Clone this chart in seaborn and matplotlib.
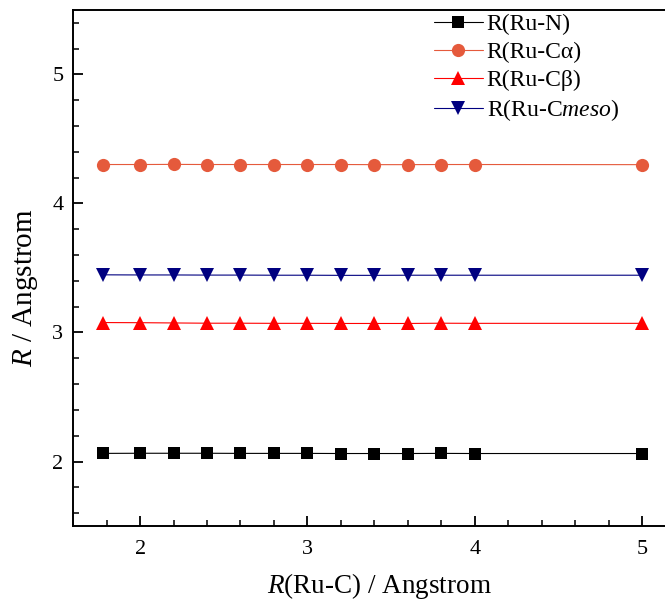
import matplotlib
matplotlib.use('Agg')
import matplotlib.pyplot as plt
from matplotlib.ticker import MultipleLocator
import pandas as pd
import seaborn as sns

sns.set_style('ticks')
plt.rcParams['font.family'] = ['Liberation Serif', 'DejaVu Serif']
plt.rcParams['mathtext.fontset'] = 'custom'
plt.rcParams['mathtext.rm'] = 'Liberation Serif'
plt.rcParams['mathtext.it'] = 'Liberation Serif:italic'
plt.rcParams['text.color'] = 'black'
plt.rcParams['axes.labelcolor'] = 'black'
plt.rcParams['xtick.color'] = 'black'
plt.rcParams['ytick.color'] = 'black'

# distances Ru-C scanned
r_ruc = [1.78, 2.0, 2.2, 2.4, 2.6, 2.8, 3.0, 3.2, 3.4, 3.6, 3.8, 4.0, 5.0]
r_n = [2.063, 2.064, 2.064, 2.064, 2.063, 2.063, 2.063, 2.062, 2.062, 2.062, 2.063, 2.062, 2.062]
r_ca = [4.302, 4.302, 4.303, 4.302, 4.302, 4.302, 4.302, 4.302, 4.301, 4.301, 4.302, 4.302, 4.301]
r_cb = [3.077, 3.076, 3.074, 3.072, 3.072, 3.071, 3.071, 3.070, 3.070, 3.070, 3.072, 3.071, 3.071]
r_cmeso = [3.447, 3.446, 3.446, 3.445, 3.445, 3.444, 3.444, 3.443, 3.443, 3.444, 3.444, 3.444, 3.444]

labels = ['R(Ru-N)', 'R(Ru-C\u03b1)', 'R(Ru-C\u03b2)', 'R(Ru-C$\\mathit{meso}$)']
series = [r_n, r_ca, r_cb, r_cmeso]
colors = ['#000000', '#E55A3C', '#FF0000', '#000080']
markers = ['s', 'o', '^', 'v']
msizes = [8.5, 9.5, 10.5, 10.5]

fig = plt.figure(figsize=(6.65, 6.07), dpi=100)
ax = fig.add_axes([0.11, 0.1334, 0.89, 0.8502])

for vals, lab, c, m, ms in zip(series, labels, colors, markers, msizes):
    df = pd.DataFrame({'x': r_ruc, 'y': vals})
    sns.lineplot(data=df, x='x', y='y', ax=ax, color=c, marker=m, markersize=ms,
                 markeredgewidth=0, linewidth=0.8, label=lab)

ax.set_xlim(1.6, 5.137)
ax.set_ylim(1.5, 5.5)
ax.xaxis.set_major_locator(MultipleLocator(1))
ax.xaxis.set_minor_locator(MultipleLocator(0.2))
ax.yaxis.set_major_locator(MultipleLocator(1))
ax.yaxis.set_minor_locator(MultipleLocator(0.2))
ax.tick_params(which='major', direction='in', length=7, width=1.3, labelsize=16,
               colors='black', left=True, bottom=True)
ax.tick_params(which='minor', direction='in', length=4, width=1.1, colors='black',
               left=True, bottom=True)
ax.tick_params(axis='x', which='major', pad=10)
ax.tick_params(axis='y', which='major', pad=7)
ax.spines['right'].set_visible(False)
for s in ['left', 'bottom', 'top']:
    ax.spines[s].set_linewidth(1.4)
    ax.spines[s].set_color('black')

ax.set_xlabel('$\\mathit{R}$(Ru-C) / Angstrom', fontsize=19.5)
ax.set_ylabel('$\\mathit{R}$ / Angstrom', fontsize=21)
ax.xaxis.set_label_coords(0.517, -0.088)
ax.yaxis.set_label_coords(-0.056, 0.462)

ax.legend(loc='upper left', bbox_to_anchor=(0.603, 1.0), frameon=False, fontsize=17,
          handlelength=2.1, handletextpad=0.15, labelspacing=0.27, borderaxespad=0.0,
          borderpad=0.15)

fig.savefig('out.png', dpi=100)
